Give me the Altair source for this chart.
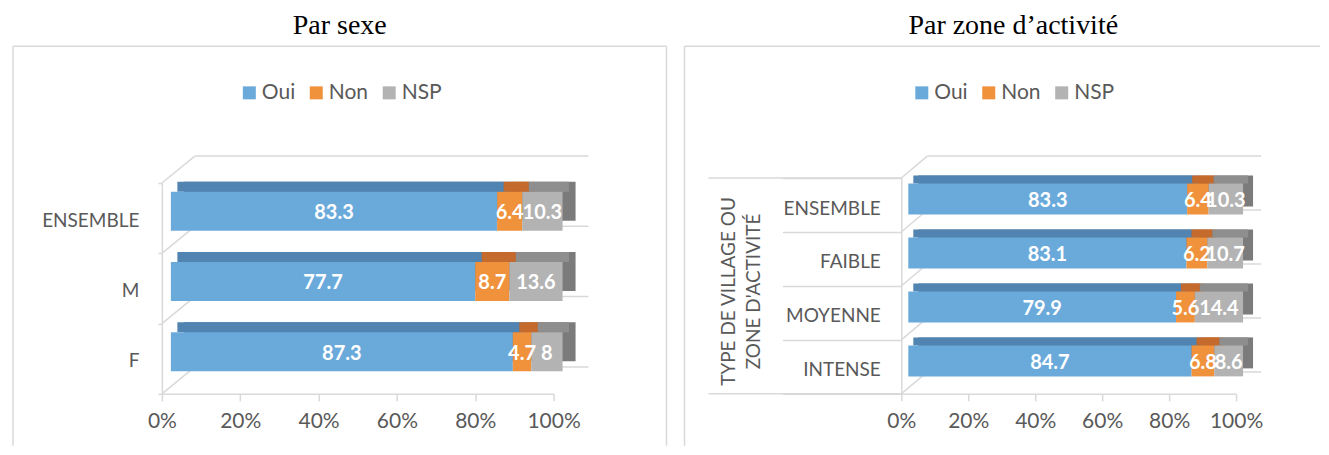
import altair as alt
import pandas as pd

# ---------------- data ----------------
responses = ["Oui", "Non", "NSP"]

sexe_categories = ["ENSEMBLE", "M", "F"]
sexe_oui = [83.3, 77.7, 87.3]
sexe_non = [6.4, 8.7, 4.7]
sexe_nsp = [10.3, 13.6, 8]

zone_categories = ["ENSEMBLE", "FAIBLE", "MOYENNE", "INTENSE"]
zone_oui = [83.3, 83.1, 79.9, 84.7]
zone_non = [6.4, 6.2, 5.6, 6.8]
zone_nsp = [10.3, 10.7, 14.4, 8.6]

# ---------------- styles ----------------
front_colors = ["#6AAADB", "#F0913C", "#B3B3B3"]
top_colors = ["#5184B0", "#C46A2C", "#8E8E8E"]
side_colors = ["#4B79A3", "#A85B26", "#7B7B7B"]
GRID = "#D9D9D9"
TXT = "#595959"
FONT = "Lato"


def make_df(cats, oui, non, nsp):
    rows = []
    for i, c in enumerate(cats):
        for j, (r, v) in enumerate(zip(responses, (oui[i], non[i], nsp[i]))):
            rows.append({"cat": c, "resp": r, "value": v, "order": j})
    return pd.DataFrame(rows)


def color_expr(cols):
    return (f"datum.resp === '{responses[0]}' ? '{cols[0]}' : "
            f"datum.resp === '{responses[1]}' ? '{cols[1]}' : '{cols[2]}'")


one = pd.DataFrame({"k": [0]})


def rule(x, x2, y, y2, color=GRID, width=1.5):
    return alt.Chart(one).mark_rule(color=color, strokeWidth=width).encode(
        x=alt.value(x), x2=alt.value(x2), y=alt.value(y), y2=alt.value(y2))


def panel(df, cats, W, H, y0, bar, dx, dy, xo, fy, wdx, wdy, wright,
          frame_rules, title, title_dx, y_axis, legend_xy, extra_rules):
    n = len(cats)
    step = (H - y0) / n
    base = alt.Chart(df).transform_stack(
        stack="value", groupby=["cat"], sort=[alt.SortField("order")],
        offset="normalize", as_=["x0", "x1"]
    ).transform_calculate(
        mid="(datum.x0 + datum.x1) / 2",
        sidec=color_expr(side_colors),
        topc=color_expr(top_colors),
    )
    xs = alt.Scale(domain=[0, 1], nice=False, zero=False)
    ys = alt.Scale(domain=cats, range=[y0, H], paddingInner=0, paddingOuter=0)
    x_axis = alt.Axis(values=[0, 0.2, 0.4, 0.6, 0.8, 1], format=".0%", title=None,
                      labelFlush=False, labelFontSize=21, labelPadding=10,
                      tickSize=7, grid=False)
    X = alt.X("x0:Q", scale=xs, axis=x_axis)
    Y = alt.Y("cat:N", sort=cats, scale=ys, axis=y_axis)

    layers = list(frame_rules)
    # back wall / floor lines of the 3D frame
    for k in range(n + 1):
        yk = y0 + k * step
        layers.append(rule(wdx, W + wright, yk - wdy, yk - wdy))
        layers.append(rule(0, wdx, yk, yk - wdy))
    layers += list(extra_rules)

    back = base.mark_bar(size=bar, xOffset=xo + dx, x2Offset=xo + dx,
                         yOffset=fy - dy).encode(
        x=X, x2="x1:Q", y=Y, fill=alt.Fill("sidec:N", scale=None))
    top = base.mark_bar(size=dy, xOffset=xo + dx / 2, x2Offset=xo + dx / 2,
                        yOffset=fy - bar / 2 - dy / 2).encode(
        x=X, x2="x1:Q", y=Y, fill=alt.Fill("topc:N", scale=None))
    front = base.mark_bar(size=bar, xOffset=xo, x2Offset=xo, yOffset=fy).encode(
        x=X, x2="x1:Q", y=Y,
        color=alt.Color("resp:N", scale=alt.Scale(domain=responses, range=front_colors),
                        legend=alt.Legend(orient="none", legendX=legend_xy[0],
                                          legendY=legend_xy[1], direction="horizontal",
                                          title=None, symbolType="square",
                                          symbolSize=169, symbolStrokeWidth=0,
                                          labelFont=FONT, labelFontSize=21,
                                          labelColor=TXT, columnPadding=10,
                                          labelOffset=2)),
    )
    text = base.mark_text(color="white", font=FONT, fontWeight="bold", fontSize=20,
                          xOffset=xo, yOffset=fy + 2, baseline="middle").encode(
        x=alt.X("mid:Q", scale=xs, axis=x_axis), y=Y, text=alt.Text("value:Q"))
    layers += [back, top, front, text]
    return alt.layer(*layers).properties(
        width=W, height=H,
        title=alt.TitleParams(title, font="Liberation Serif", fontSize=28,
                              fontWeight="normal", color="black", anchor="middle",
                              frame="bounds", offset=5, dx=title_dx),
    )


# ---------------- left panel ----------------
LW, LH = 392, 216
left_axis = alt.Axis(title=None, labelFont=FONT, labelFontSize=19, labelColor=TXT,
                     tickBand="extent", tickSize=4, labelPadding=19, labelOffset=2,
                     grid=False)
left = panel(
    make_df(sexe_categories, sexe_oui, sexe_non, sexe_nsp), sexe_categories,
    LW, LH, y0=5, bar=39, dx=13, dy=10, xo=9, fy=-7, wdx=33, wdy=27, wright=35,
    frame_rules=[rule(-149, 505, -132, -132), rule(-149, -149, -132, 268),
                 rule(505, 505, -132, 268)],
    title="Par sexe", title_dx=0, y_axis=left_axis, legend_xy=(77, -96),
    extra_rules=[],
)

# ---------------- right panel ----------------
RW, RH = 335, 216
right_axis = alt.Axis(title=["TYPE DE VILLAGE OU", "ZONE D'ACTIVITÉ"],
                      titleFont=FONT, titleFontSize=19, titleFontWeight="normal",
                      titleColor=TXT, titleX=-173, titleY=113, titleAngle=270,
                      titleAlign="center", titleBaseline="middle", titleLineHeight=25,
                      labelFont=FONT, labelFontSize=19, labelColor=TXT,
                      tickBand="extent", tickSize=119, labelPadding=-98, labelOffset=3,
                      grid=False)
right = panel(
    make_df(zone_categories, zone_oui, zone_non, zone_nsp), zone_categories,
    RW, RH, y0=0, bar=31, dx=10, dy=8, xo=7, fy=-6, wdx=26, wdy=22, wright=25,
    frame_rules=[rule(-217, 419, -132, -132), rule(-217, -217, -132, 268)],
    title="Par zone d’activité", title_dx=11, y_axis=right_axis, legend_xy=(10, -96),
    extra_rules=[rule(-193, 0, 0, 0), rule(-193, 0, RH, RH)],
)

chart = alt.hconcat(left, right, spacing=16).resolve_scale(
    color="independent"
).resolve_legend(color="independent").properties(
    padding={"left": 4, "top": 4, "right": 0, "bottom": 0}
).configure_view(stroke=None).configure_axis(
    domainColor=GRID, domainWidth=1.5, tickColor=GRID, tickWidth=1.5,
    labelColor=TXT, labelFont=FONT,
)

chart.save("out.html", embed_options={"renderer": "svg", "actions": False})
